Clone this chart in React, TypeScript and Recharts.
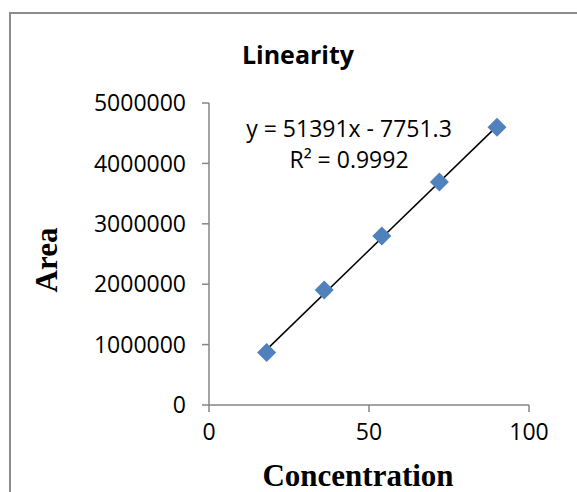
import React from "react";
import {
  ScatterChart,
  Scatter,
  XAxis,
  YAxis,
  ReferenceLine,
} from "recharts";

// concentration levels and measured peak areas
const concentrations = [18, 36, 54, 72, 90];
const areas = [870000, 1904000, 2798000, 3690000, 4600000];

const xTicks = [0, 50, 100];
const yTicks = [0, 1000000, 2000000, 3000000, 4000000, 5000000];

// trendline reported by the chart
const slope = 51391;
const intercept = -7751.3;
const rSquared = 0.9992;

const points = concentrations.map((x, i) => ({ x, y: areas[i] }));

const xMin = Math.min(...concentrations);
const xMax = Math.max(...concentrations);
const trend = [
  { x: xMin, y: slope * xMin + intercept },
  { x: xMax, y: slope * xMax + intercept },
];

const AXIS = "#868686";
const TICK_FONT = { fontFamily: "'Open Sans', sans-serif", fontSize: 23, fill: "#000" };

const Diamond = (props: any) => {
  const { cx, cy } = props;
  const r = 9.5;
  return (
    <polygon
      points={`${cx},${cy - r} ${cx + r},${cy} ${cx},${cy + r} ${cx - r},${cy}`}
      fill="#4F81BD"
    />
  );
};

export default function App() {
  return (
    <div
      style={{
        position: "absolute",
        left: 0,
        top: 0,
        width: 577,
        height: 492,
        overflow: "hidden",
        background: "#fff",
      }}
    >
      <div
        style={{
          position: "absolute",
          left: 9,
          top: 12,
          width: 700,
          height: 600,
          border: "2px solid #8c8c8c",
        }}
      />
      <div style={{ position: "absolute", left: 0, top: 0 }}>
        <ScatterChart
          width={577}
          height={492}
          margin={{ top: 103, right: 48, bottom: 47, left: 109 }}
        >
          <XAxis
            type="number"
            dataKey="x"
            domain={[0, 100]}
            ticks={xTicks}
            tick={TICK_FONT}
            tickSize={7}
            tickMargin={12}
            height={40}
            stroke={AXIS}
            strokeWidth={1.5}
            tickLine={{ stroke: AXIS, strokeWidth: 1.5 }}
          />
          <YAxis
            type="number"
            dataKey="y"
            domain={[0, 5000000]}
            ticks={yTicks}
            tick={TICK_FONT}
            tickSize={7}
            tickMargin={16}
            width={100}
            stroke={AXIS}
            strokeWidth={1.5}
            tickLine={{ stroke: AXIS, strokeWidth: 1.5 }}
            interval={0}
          />
          <ReferenceLine
            segment={trend}
            stroke="#000"
            strokeWidth={1.5}
            ifOverflow="visible"
          />
          <Scatter
            data={points}
            shape={Diamond}
            isAnimationActive={false}
          />
        </ScatterChart>
      </div>
      <svg
        width={577}
        height={492}
        style={{ position: "absolute", left: 0, top: 0, pointerEvents: "none" }}
      >
        <text
          x={298}
          y={64}
          textAnchor="middle"
          fontFamily="'Open Sans', sans-serif"
          fontWeight="bold"
          fontSize={25}
          fill="#000"
        >
          Linearity
        </text>
        <text
          x={349}
          y={137}
          textAnchor="middle"
          fontFamily="'Open Sans', sans-serif"
          fontSize={23}
          fill="#000"
        >
          {`y = ${slope}x - ${Math.abs(intercept)}`}
        </text>
        <text
          x={349}
          y={168}
          textAnchor="middle"
          fontFamily="'Open Sans', sans-serif"
          fontSize={23}
          fill="#000"
        >
          {`R² = ${rSquared}`}
        </text>
        <text
          x={57}
          y={260}
          textAnchor="middle"
          transform="rotate(-90 57 260)"
          fontFamily="'Liberation Serif', 'Times New Roman', serif"
          fontWeight="bold"
          fontSize={31}
          fill="#000"
        >
          Area
        </text>
        <text
          x={358}
          y={486}
          textAnchor="middle"
          fontFamily="'Liberation Serif', 'Times New Roman', serif"
          fontWeight="bold"
          fontSize={31}
          fill="#000"
        >
          Concentration
        </text>
      </svg>
    </div>
  );
}
